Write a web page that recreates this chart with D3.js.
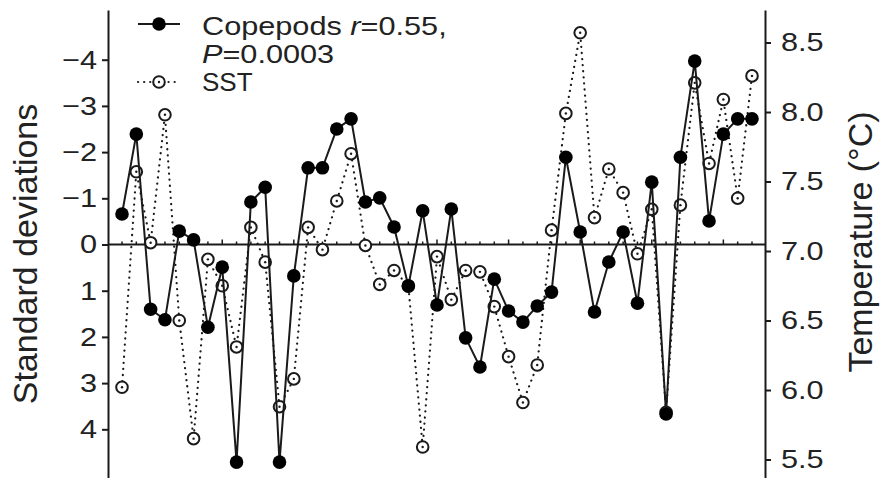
<!DOCTYPE html>
<html>
<head>
<meta charset="utf-8">
<script src="https://cdn.jsdelivr.net/npm/d3@7"></script>
<style>
    body { margin: 0; background: #fff; }
    svg { display: block; font-family: "Liberation Sans", Arial, Helvetica, sans-serif; }
    .axis path, .axis line { stroke: #1a1a1a; stroke-width: 2; }
    .axis text { fill: #222; font-size: 26px; }
</style>
</head>
<body>
<div id="chart"></div>
<script>
// copepod anomalies (standard deviations, axis drawn inverted) and SST (deg C), one per year
const copepods = [
    -0.66, -2.39, 1.40, 1.63, -0.29, -0.10, 1.79, 0.49, 4.71, -0.92,
    -1.24, 4.71, 0.68, -1.66, -1.66, -2.50, -2.72, -0.92, -1.01, -0.38,
    0.90, -0.73, 1.31, -0.77, 2.02, 2.65, 0.75, 1.44, 1.68, 1.33,
    1.03, -1.89, -0.27, 1.46, 0.38, -0.27, 1.27, -1.35, 3.67, -1.89,
    -3.97, -0.51, -2.39, -2.72, -2.72
];
const sst = [
    6.02, 7.57, 7.06, 7.98, 6.50, 5.65, 6.94, 6.75, 6.31, 7.17,
    6.92, 5.88, 6.08, 7.17, 7.01, 7.36, 7.70, 7.04, 6.76, 6.86,
    6.75, 5.59, 6.96, 6.65, 6.86, 6.85, 6.60, 6.24, 5.91, 6.18,
    7.15, 7.99, 8.57, 7.24, 7.59, 7.42, 6.98, 7.30, 5.84, 7.33,
    8.21, 7.63, 8.09, 7.38, 8.26
];
const sdTicks = [-4, -3, -2, -1, 0, 1, 2, 3, 4];
const tempTicks = [5.5, 6.0, 6.5, 7.0, 7.5, 8.0, 8.5];

const width = 882,
    height = 478,
    margin = {top: 10, right: 117, bottom: 0, left: 108},
    stretch = 1.18; // the reference's horizontal labels are set wide

const svg = d3.select("#chart")
    .append("svg")
    .attr("width", width)
    .attr("height", height);

const xScale = d3.scaleLinear()
    .domain([0, copepods.length - 1])
    .range([122, 752]);

// inverted: negative values at the top
const ySd = d3.scaleLinear()
    .domain([-5.076, 5.054])
    .range([margin.top, height - margin.bottom]);

const yTemp = d3.scaleLinear()
    .domain([5.367, 8.734])
    .range([height - margin.bottom, margin.top]);

const minus = (d) => d < 0 ? "\u2212" + Math.abs(d) : d;

const widen = (g) => g.selectAll(".tick text")
    .attr("x", function () { return +d3.select(this).attr("x") / stretch; })
    .attr("transform", `scale(${stretch},1)`);

svg.append("g")
    .attr("class", "axis")
    .attr("transform", `translate(${margin.left},0)`)
    .call(d3.axisLeft(ySd)
        .tickValues(sdTicks)
        .tickSize(6)
        .tickSizeOuter(0)
        .tickPadding(5)
        .tickFormat(minus))
    .call(widen);

svg.append("g")
    .attr("class", "axis")
    .attr("transform", `translate(${width - margin.right},0)`)
    .call(d3.axisRight(yTemp)
        .tickValues(tempTicks)
        .tickSize(6)
        .tickSizeOuter(0)
        .tickPadding(10)
        .tickFormat(d3.format(".1f")))
    .call(widen);

// zero line with yearly ticks
const zeroY = ySd(0);
svg.append("line")
    .attr("x1", margin.left)
    .attr("x2", width - margin.right)
    .attr("y1", zeroY)
    .attr("y2", zeroY)
    .attr("stroke", "#1a1a1a")
    .attr("stroke-width", 2);

svg.append("g")
    .selectAll("line")
    .data(d3.range(copepods.length))
    .join("line")
    .attr("x1", (i) => xScale(i))
    .attr("x2", (i) => xScale(i))
    .attr("y1", zeroY)
    .attr("y2", (i) => zeroY - (i % 5 === 2 ? 5 : 3))
    .attr("stroke", "#1a1a1a")
    .attr("stroke-width", 1.5);

// SST dotted line
const sstLine = d3.line()
    .x((d, i) => xScale(i))
    .y((d) => yTemp(d));

svg.append("path")
    .datum(sst)
    .attr("d", sstLine)
    .attr("fill", "none")
    .attr("stroke", "#1a1a1a")
    .attr("stroke-width", 2.2)
    .attr("stroke-dasharray", "0.1,6")
    .attr("stroke-linecap", "round");

const sstDots = svg.append("g")
    .selectAll("g")
    .data(sst)
    .join("g")
    .attr("transform", (d, i) => `translate(${xScale(i)},${yTemp(d)})`);
sstDots.append("circle")
    .attr("r", 5.8)
    .attr("fill", "#fff")
    .attr("stroke", "#1a1a1a")
    .attr("stroke-width", 2);
sstDots.append("circle")
    .attr("r", 1.2)
    .attr("fill", "#1a1a1a");

// copepod solid line
const copLine = d3.line()
    .x((d, i) => xScale(i))
    .y((d) => ySd(d));

svg.append("path")
    .datum(copepods)
    .attr("d", copLine)
    .attr("fill", "none")
    .attr("stroke", "#1a1a1a")
    .attr("stroke-width", 2);

svg.append("g")
    .selectAll("circle")
    .data(copepods)
    .join("circle")
    .attr("cx", (d, i) => xScale(i))
    .attr("cy", (d) => ySd(d))
    .attr("r", 6.8)
    .attr("fill", "#000");

// legend
const legend = svg.append("g").attr("fill", "#222").style("font-size", "26px");
legend.append("line")
    .attr("x1", 138).attr("x2", 180).attr("y1", 24).attr("y2", 24)
    .attr("stroke", "#1a1a1a").attr("stroke-width", 2);
legend.append("circle")
    .attr("cx", 159).attr("cy", 24).attr("r", 6.8).attr("fill", "#000");

const t1 = legend.append("text").attr("transform", `translate(202,35) scale(${stretch},1)`);
t1.append("tspan").text("Copepods ");
t1.append("tspan").attr("font-style", "italic").text("r");
t1.append("tspan").text("=0.55,");
const t2 = legend.append("text").attr("transform", `translate(202,63) scale(${stretch},1)`);
t2.append("tspan").attr("font-style", "italic").text("P");
t2.append("tspan").text("=0.0003");

legend.append("line")
    .attr("x1", 138).attr("x2", 180).attr("y1", 82).attr("y2", 82)
    .attr("stroke", "#1a1a1a").attr("stroke-width", 2.2)
    .attr("stroke-dasharray", "0.1,6").attr("stroke-linecap", "round");
legend.append("circle")
    .attr("cx", 159).attr("cy", 82).attr("r", 5.8)
    .attr("fill", "#fff").attr("stroke", "#1a1a1a").attr("stroke-width", 2);
legend.append("circle")
    .attr("cx", 159).attr("cy", 82).attr("r", 1.2).attr("fill", "#1a1a1a");
legend.append("text").attr("x", 202).attr("y", 91).text("SST");

// axis titles
svg.append("text")
    .attr("transform", "translate(37,254) rotate(-90)")
    .attr("text-anchor", "middle")
    .attr("fill", "#222")
    .style("font-size", "34px")
    .text("Standard deviations");

svg.append("text")
    .attr("transform", "translate(872,242) rotate(-90)")
    .attr("text-anchor", "middle")
    .attr("fill", "#222")
    .style("font-size", "34px")
    .text("Temperature (\u00b0C)");
</script>
</body>
</html>
